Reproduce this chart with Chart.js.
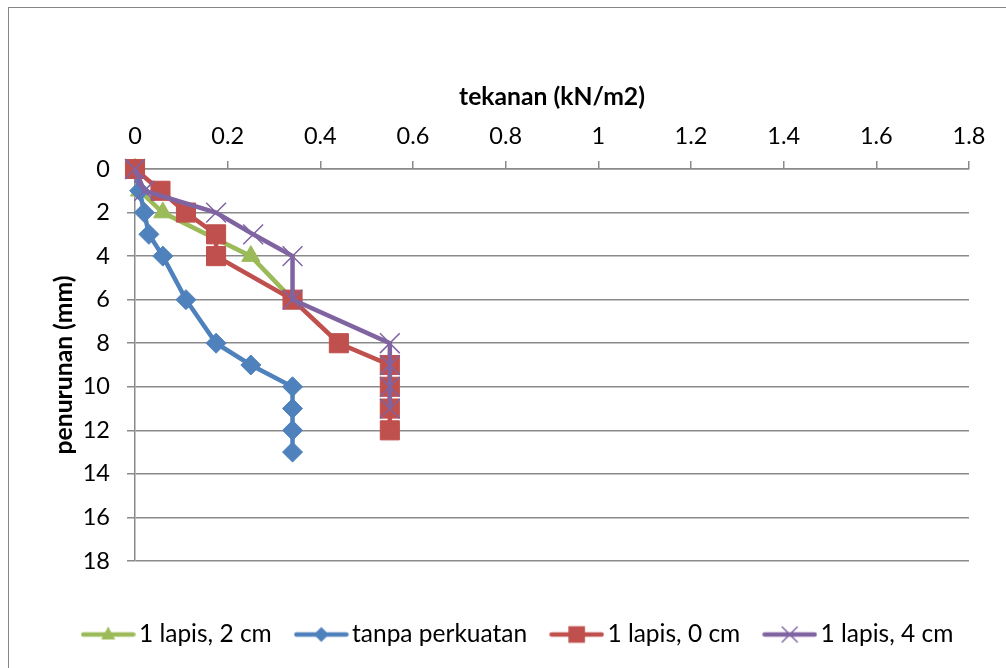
<!DOCTYPE html>
<html>
<head>
<meta charset="utf-8">
<script src="https://cdn.jsdelivr.net/npm/chart.js@4"></script>
<style>
  html, body { margin: 0; padding: 0; background: #fff; overflow: hidden; }
  #frame {
    position: absolute; left: 8px; top: 7px; width: 1100px; height: 700px;
    border-left: 1px solid #868686; border-top: 1px solid #868686;
  }
  #chart { position: absolute; left: 0; top: 0; }
</style>
</head>
<body>
<div id="frame"></div>
<canvas id="chart" width="1006" height="668"></canvas>
<script>
// tick values
const xTicks = [0, 0.2, 0.4, 0.6, 0.8, 1, 1.2, 1.4, 1.6, 1.8];
const yTicks = [0, 2, 4, 6, 8, 10, 12, 14, 16, 18];

// series (x = tekanan, y = penurunan)
const seriesNames = ['1 lapis, 2 cm', 'tanpa perkuatan', '1 lapis, 0 cm', '1 lapis, 4 cm'];

const lapis2X = [0, 0.01, 0.06, 0.25, 0.34];
const lapis2Y = [0, 1, 2, 4, 6];

const tanpaX = [0, 0.01, 0.02, 0.03, 0.06, 0.11, 0.175, 0.25, 0.34, 0.34, 0.34, 0.34];
const tanpaY = [0, 1, 2, 3, 4, 6, 8, 9, 10, 11, 12, 13];

const lapis0X = [0, 0.055, 0.11, 0.175, 0.175, 0.34, 0.44, 0.55, 0.55, 0.55, 0.55];
const lapis0Y = [0, 1, 2, 3, 4, 6, 8, 9, 10, 11, 12];

const lapis4X = [0, 0.02, 0.175, 0.255, 0.34, 0.34, 0.55, 0.55, 0.55, 0.55];
const lapis4Y = [0, 1, 2, 3, 4, 6, 8, 9, 10, 11];

const colors = ['#9BBB59', '#4F81BD', '#C0504D', '#8064A2'];
const styles = ['triangle', 'rectRot', 'rect', 'crossRot'];
const radii = [10.5, 10, 13.5, 14];

const toPoints = (xs, ys) => xs.map((x, i) => ({ x: x, y: ys[i] }));
const allData = [
  toPoints(lapis2X, lapis2Y),
  toPoints(tanpaX, tanpaY),
  toPoints(lapis0X, lapis0Y),
  toPoints(lapis4X, lapis4Y)
];

// legend swatch: a line with the marker in the middle
function legendSwatch(color, style) {
  const c = document.createElement('canvas');
  c.width = 55; c.height = 24;
  const g = c.getContext('2d');
  const cx = 27.5, cy = 12;
  g.strokeStyle = color; g.fillStyle = color;
  g.lineWidth = 4.5; g.lineCap = 'round';
  g.beginPath(); g.moveTo(2.5, cy); g.lineTo(52.5, cy); g.stroke();
  g.beginPath();
  if (style === 'triangle') {
    g.moveTo(cx, cy - 8); g.lineTo(cx + 7, cy + 5); g.lineTo(cx - 7, cy + 5); g.closePath(); g.fill();
  } else if (style === 'rectRot') {
    g.moveTo(cx, cy - 7.5); g.lineTo(cx + 7.5, cy); g.lineTo(cx, cy + 7.5); g.lineTo(cx - 7.5, cy); g.closePath(); g.fill();
  } else if (style === 'rect') {
    g.rect(cx - 8.3, cy - 8.3, 16.6, 16.6); g.fill();
  } else {
    g.lineWidth = 1.5;
    g.moveTo(cx - 7.5, cy - 7.5); g.lineTo(cx + 7.5, cy + 7.5);
    g.moveTo(cx + 7.5, cy - 7.5); g.lineTo(cx - 7.5, cy + 7.5); g.stroke();
  }
  return c;
}

Chart.defaults.color = '#000';
Chart.defaults.font.family = 'Lato, "Noto Sans", sans-serif';

const gridColor = '#8a8a8a';

const chart = new Chart(document.getElementById('chart'), {
  type: 'scatter',
  data: {
    datasets: allData.map((pts, i) => ({
      label: seriesNames[i],
      data: pts,
      showLine: true,
      tension: 0,
      borderColor: colors[i],
      backgroundColor: colors[i],
      borderWidth: 4.5,
      pointStyle: styles[i],
      pointRadius: radii[i],
      pointHoverRadius: radii[i],
      pointBackgroundColor: colors[i],
      pointBorderColor: colors[i],
      pointBorderWidth: styles[i] === 'crossRot' ? 1.5 : 1,
      clip: false,
      order: 4 - i
    }))
  },
  options: {
    responsive: false,
    animation: false,
    layout: { padding: { left: 37, right: 0, top: 0, bottom: 11.25 } },
    scales: {
      x: {
        type: 'linear',
        position: 'top',
        min: 0,
        max: 1.8,
        afterBuildTicks: axis => { axis.ticks = xTicks.map(v => ({ value: v })); },
        afterFit: axis => { axis.height = 169; },
        ticks: {
          font: { size: 23.5 },
          padding: 10.5,
          maxRotation: 0,
          callback: v => String(+v.toFixed(1))
        },
        grid: { drawOnChartArea: false, drawTicks: true, tickLength: 8, color: gridColor, lineWidth: 1.5 },
        border: { display: true, color: gridColor, width: 1.5 },
        title: {
          display: true,
          text: 'tekanan (kN/m2)',
          font: { size: 24.7, weight: 'bold' },
          padding: { top: 82.2, bottom: 0 }
        }
      },
      y: {
        type: 'linear',
        position: 'left',
        reverse: true,
        min: 0,
        max: 18,
        afterBuildTicks: axis => { axis.ticks = yTicks.map(v => ({ value: v })); },
        afterFit: axis => { axis.width = 98; },
        ticks: { font: { size: 23.5 }, padding: 17 },
        grid: { drawOnChartArea: true, drawTicks: true, tickLength: 8, color: gridColor, lineWidth: 1.5 },
        border: { display: true, color: gridColor, width: 1.5 },
        title: {
          display: true,
          text: 'penurunan (mm)',
          font: { size: 24.7, weight: 'bold' },
          padding: { top: 12.2, bottom: 0 }
        }
      },
      // empty spacer on the right so the plot ends at the same place
      spacer: {
        type: 'linear',
        position: 'right',
        afterFit: axis => { axis.width = 37; },
        ticks: { display: false },
        grid: { display: false },
        border: { display: false }
      }
    },
    plugins: {
      tooltip: { enabled: false },
      legend: {
        position: 'bottom',
        title: { display: true, text: ' ', font: { size: 10 }, padding: { top: 18.25, bottom: 0 } },
        labels: {
          usePointStyle: true,
          pointStyleWidth: 37,
          padding: 31,
          font: { size: 24.5 },
          generateLabels: ch => ch.data.datasets.map((ds, i) => ({
            text: ds.label,
            datasetIndex: i,
            pointStyle: legendSwatch(colors[i], styles[i]),
            fillStyle: colors[i],
            strokeStyle: colors[i],
            lineWidth: 0,
            hidden: false
          }))
        }
      }
    }
  }
});
</script>
</body>
</html>
